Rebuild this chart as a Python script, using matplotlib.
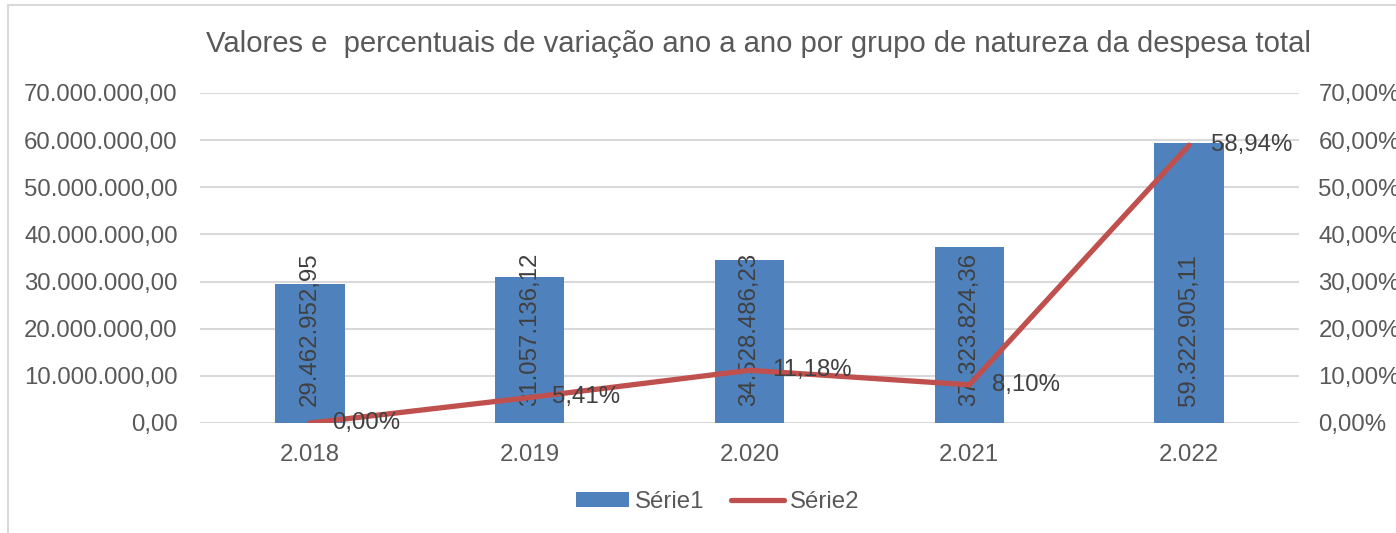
import matplotlib
matplotlib.use("Agg")
import matplotlib.pyplot as plt
from matplotlib.patches import Rectangle, Patch
from matplotlib.lines import Line2D

categories = ["2.018", "2.019", "2.020", "2.021", "2.022"]
serie1 = [29462952.95, 31057136.12, 34528486.23, 37323824.36, 59322905.11]
serie2 = [0.00, 5.41, 11.18, 8.10, 58.94]
left_ticks = [0, 10e6, 20e6, 30e6, 40e6, 50e6, 60e6, 70e6]
right_ticks = [0, 10, 20, 30, 40, 50, 60, 70]
title = "Valores e  percentuais de variação ano a ano por grupo de natureza da despesa total"

BLUE = "#4F81BD"
RED = "#C0504D"
TXT = "#595959"
GRID = "#D9D9D9"
FS = 17.3

plt.rcParams['font.family'] = ['Liberation Sans', 'DejaVu Sans']

def br_num(v):
    s = f"{v:,.2f}"
    return s.replace(",", "X").replace(".", ",").replace("X", ".")

W, H = 1396, 533
fig = plt.figure(figsize=(W/100, H/100), dpi=100)
fig.patches.append(Rectangle((8/W, -0.1), 1.2, 1 - 5/H + 0.1, transform=fig.transFigure,
                             fill=False, edgecolor=GRID, linewidth=1.5))

ax = fig.add_axes([200/W, 1 - 423/H, (1299-200)/W, (423-93)/H])
x = list(range(len(categories)))
ax.bar(x, serie1, width=0.315, color=BLUE, zorder=2)
ax.set_xlim(-0.5, len(categories) - 0.5)
ax.set_ylim(0, 70e6)
ax.set_yticks(left_ticks)
ax.set_yticklabels([br_num(v) for v in left_ticks])
ax.set_xticks(x)
ax.set_xticklabels(categories)
ax.tick_params(axis='both', length=0, labelsize=FS, labelcolor=TXT)
ax.tick_params(axis='y', pad=16)
ax.tick_params(axis='x', pad=15)
for s in ax.spines.values():
    s.set_visible(False)
ax.grid(axis='y', color=GRID, linewidth=1.5, zorder=0)
ax.set_axisbelow(True)

for xi, v in zip(x, serie1):
    ax.annotate(br_num(v), (xi, 0), xytext=(0, 12), textcoords='offset points',
                rotation=90, ha='center', va='bottom', fontsize=FS, color="#404040", zorder=5)

ax2 = ax.twinx()
ax2.plot(x, serie2, color=RED, linewidth=3.8, solid_capstyle='round', zorder=3)
ax2.set_ylim(0, 70)
ax2.set_yticks(right_ticks)
ax2.set_yticklabels([f"{v:.2f}%".replace(".", ",") for v in right_ticks])
ax2.tick_params(axis='y', length=0, labelsize=FS, labelcolor=TXT, pad=14)
for s in ax2.spines.values():
    s.set_visible(False)
for xi, v in zip(x, serie2):
    ax2.annotate(f"{v:.2f}%".replace(".", ","), (xi, v), xytext=(16, 0), textcoords='offset points',
                 ha='left', va='center', fontsize=FS, color="#404040", zorder=6)

fig.text(758/W, 1 - 44/H, title, ha='center', va='center', fontsize=21.1, color=TXT)

handles = [Patch(facecolor=BLUE), Line2D([0], [0], color=RED, linewidth=3.8, solid_capstyle='round')]
fig.legend(handles, ["Série1", "Série2"], loc='center', bbox_to_anchor=(718/W, 1 - 502/H),
           ncol=2, frameon=False, fontsize=FS, labelcolor=TXT, handlelength=2.2,
           handleheight=0.55, handletextpad=0.25, columnspacing=1.1)

fig.savefig("out.png", dpi=100)
